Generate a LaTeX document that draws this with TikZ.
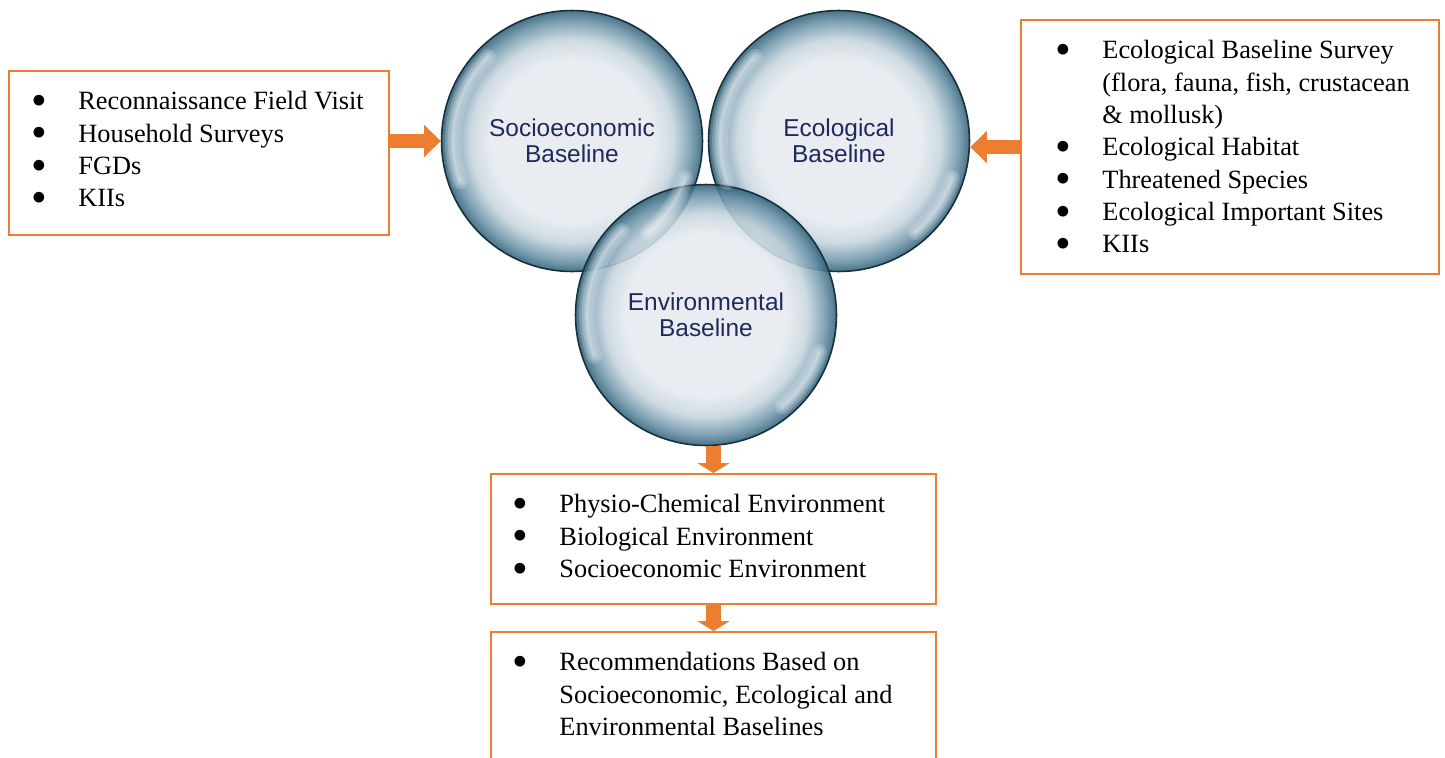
\documentclass[tikz,border=0pt]{standalone}
\usepackage{fontspec}
\setmainfont{Liberation Serif}
\newfontfamily\bubblefont{Liberation Sans}
\usepackage{xcolor}
\usepackage{tikz}
\usetikzlibrary{arrows.meta}

\definecolor{boxorange}{HTML}{ED7D31}
\definecolor{bubcore}{HTML}{E6EBF0}
\definecolor{bubmid}{HTML}{C6D5DE}
\definecolor{bubrim}{HTML}{6A93A8}
\definecolor{bubedge}{HTML}{305F77}
\definecolor{bubline}{HTML}{16303C}
\definecolor{bubtext}{HTML}{1F2A5C}

\pgfdeclareradialshading{bubble}{\pgfpointorigin}{color(0bp)=(bubcore); color(15.5bp)=(bubcore); color(19.5bp)=(bubmid); color(23bp)=(bubrim); color(25bp)=(bubedge); color(50bp)=(bubedge)}

\newcommand{\itm}[1]{\makebox[0.94cm][l]{\smash{\raisebox{-3.4pt}{\scalebox{1.7}{\textbullet}}}}#1}
\newcommand{\cont}[1]{\hspace*{0.94cm}#1}

\tikzset{
  bubble/.style={circle, minimum size=5.22cm, inner sep=0pt, shade, shading=bubble,
    fill opacity=0.87, text opacity=1, draw=bubline, line width=0.9pt,
    text=bubtext, align=center, font=\bubblefont\fontsize{13.9}{14.6}\selectfont},
  gleam/.style={white, line cap=round, line width=#1, opacity=0.18},
  listbox/.style={draw=boxorange, line width=1.1pt, inner sep=0pt},
  listtext/.style={anchor=north west, inner sep=0pt, align=left, font=\fontsize{15}{18.4}\selectfont},
  sidearrow/.style={draw=boxorange, line width=0.28cm, -{Triangle[width=0.62cm, length=0.33cm]}},
  droparrow/.style={draw=boxorange, line width=0.3cm, -{Triangle[width=0.64cm, length=0.2cm]}},
}

\begin{document}
\begin{tikzpicture}[x=0.02cm, y=-0.02cm]
  \clip (0,0) rectangle (1445,758);
  \fill[white] (0,0) rectangle (1445,758);

  \node[bubble] (socio) at (572,141) {Socioeconomic\\Baseline};
  \node[bubble] (eco) at (839,141) {Ecological\\Baseline};
  \node[bubble] (env) at (706,315) {Environmental\\Baseline};

  \foreach \b in {socio,eco,env}
    \foreach \w in {9pt,6pt,3pt,1pt}{
      \draw[gleam=\w] (\b.center) ++(-135:119) arc[start angle=-135, end angle=-200, radius=119];
      \draw[gleam=\w] (\b.center) ++(18:119) arc[start angle=18, end angle=50, radius=119];
    }

  \node[listbox, minimum width=7.6cm, minimum height=3.28cm] (field) at (199,153) {};
  \node[listtext] (fieldlist) at ([shift={(23,21)}]field.north west)
    {\itm{Reconnaissance Field Visit}\\
     \itm{Household Surveys}\\
     \itm{FGDs}\\
     \itm{KIIs}};

  \node[listbox, minimum width=8.36cm, minimum height=5.08cm] (survey) at (1230,147) {};
  \node[listtext] (surveylist) at ([shift={(35,21)}]survey.north west)
    {\itm{Ecological Baseline Survey}\\
     \cont{(flora, fauna, fish, crustacean}\\
     \cont{\& mollusk)}\\
     \itm{Ecological Habitat}\\
     \itm{Threatened Species}\\
     \itm{Ecological Important Sites}\\
     \itm{KIIs}};

  \node[listbox, minimum width=8.9cm, minimum height=2.6cm] (setting) at (713.5,539) {};
  \node[listtext] (settinglist) at ([shift={(22,21)}]setting.north west)
    {\itm{Physio-Chemical Environment}\\
     \itm{Biological Environment}\\
     \itm{Socioeconomic Environment}};

  \node[listbox, minimum width=8.9cm, minimum height=3.36cm] (advice) at (713.5,716) {};
  \node[listtext] (advicelist) at ([shift={(22,21)}]advice.north west)
    {\itm{Recommendations Based on}\\
     \cont{Socioeconomic, Ecological and}\\
     \cont{Environmental Baselines}};

  \draw[sidearrow] (socio.west -| field.east) -- (socio.west);
  \draw[sidearrow] (survey.west) -- (survey.west -| eco.east);
  \draw[droparrow] (setting.north |- env.south) -- (setting.north);
  \draw[droparrow] (setting.south) -- (advice.north);
\end{tikzpicture}
\end{document}
